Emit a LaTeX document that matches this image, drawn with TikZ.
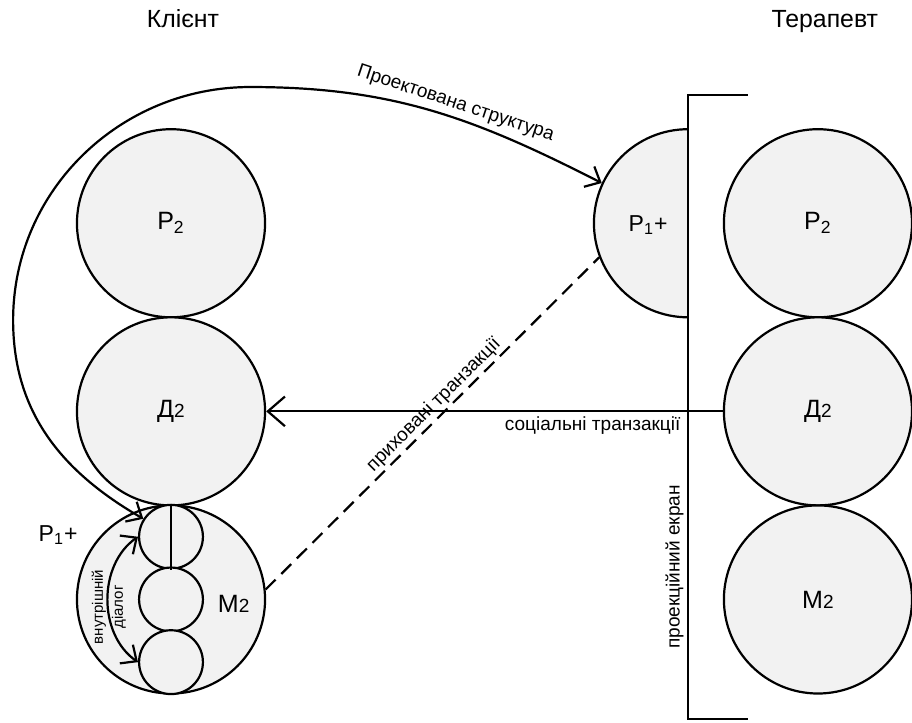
\documentclass[tikz,border=0pt]{standalone}
\usepackage{fontspec}
\setmainfont{Liberation Sans}
\usetikzlibrary{arrows.meta}
\definecolor{ballgray}{HTML}{F2F2F2}
\newcommand{\smallidx}[1]{{\fontsize{9.5}{11}\selectfont #1}}

\begin{document}
\begin{tikzpicture}[
  ball/.style={circle, draw=black, line width=1.1pt, fill=ballgray, minimum size=3.3cm, inner sep=0pt, font=\fontsize{12.5}{14}\selectfont},
  smallball/.style={circle, draw=black, line width=1.1pt, fill=ballgray, minimum size=1.12cm, inner sep=0pt},
  ttl/.style={font=\fontsize{12.4}{14}\selectfont, anchor=base},
  mark1/.style={font=\fontsize{11.5}{13}\selectfont},
  lbl/.style={font=\fontsize{9.5}{11}\selectfont, inner sep=2pt},
  wire/.style={line width=1.1pt},
  bigbarb/.tip={Straight Barb[length=3mm, width=5.2mm]},
  smallbarb/.tip={Straight Barb[length=2.2mm, width=4mm]}
]
\useasboundingbox (0,0) rectangle (16,12.667);

% client side
\node[ttl] (client) at (3.21,12.19) {Клієнт};
\node[ball] (lp) at (3,8.75) {Р\textsubscript{2}};
\node[ball] (ld) at (3,5.45) {Д\smallidx{2}};
\node[ball] (lm) at (3,2.15) {};
\node[ball, draw=none, fill=none, minimum size=0pt] (lmtext) at (4.1,2.08) {М\smallidx{2}};
\node[smallball] (ta) at (3,3.25) {};
\node[smallball] (tb) at (3,2.15) {};
\node[smallball] (tc) at (3,1.05) {};
\draw[wire] (ta.north) -- (ta.south);
\node[mark1] (pplus) at (1.02,3.28) {Р\textsubscript{1}+};

\draw[wire, smallbarb-smallbarb] (ta.west) to[bend right=55] (tc.west);
\node[rotate=90, align=center, font=\fontsize{7.5}{10}\selectfont] (dialog) at (1.91,2.02) {внутрішній\\діалог};

% therapist side
\node[ttl] (therapist) at (14.47,12.19) {Терапевт};
\node[ball] (rp) at (14.35,8.75) {Р\textsubscript{2}};
\node[ball] (rd) at (14.35,5.45) {Д\smallidx{2}};
\node[ball] (rm) at (14.35,2.15) {М\smallidx{2}};

\begin{scope}
\clip (0,0) rectangle (12.07,12.667);
\node[ball] (pp) at (12.07,8.75) {};
\end{scope}
\node[mark1] (pptext) at (11.37,8.72) {Р\textsubscript{1}+};

% projection screen
\coordinate (scrtop) at (12.07,11.0);
\coordinate (scrbot) at (12.07,0.05);
\draw[wire] ([xshift=1.05cm]scrtop) -- (scrtop) -- (scrbot) -- ([xshift=1.05cm]scrbot);
\node[lbl, rotate=90, anchor=south] (screen) at (12.07,2.72) {проекційний екран};

% transactions
\draw[wire, -bigbarb] (rd.west) -- (ld.east) node[lbl, pos=0.285, below] (social) {соціальні транзакції};
\draw[wire, dash pattern=on 7pt off 4pt] (lm.6) -- (pp.201) node[lbl, sloped, above, inner sep=1pt, pos=0.53] (hidden) {приховані транзакції};

\coordinate (loopleft) at (0.23,7.05);
\coordinate (looptop) at (4.39,11.14);
\draw[wire, smallbarb-smallbarb] (ta.147) to[out=150, in=-90] (loopleft) to[out=90, in=180] (looptop)
  to[out=0, in=153] node[lbl, sloped, above, pos=0.56] (projected) {Проектована структура} (pp.155);
\end{tikzpicture}
\end{document}
